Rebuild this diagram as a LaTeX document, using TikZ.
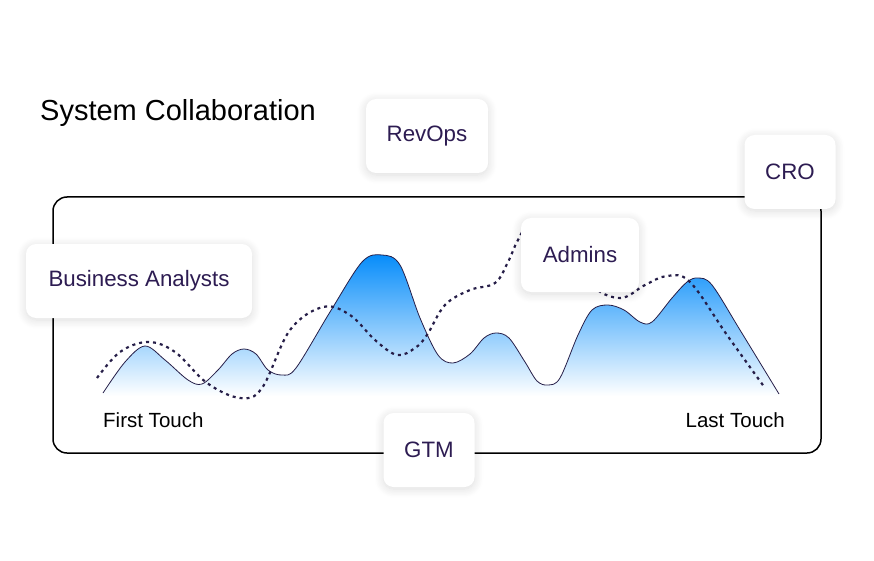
\documentclass[tikz,border=0pt]{standalone}
\usepackage{fontspec}
\setmainfont{Liberation Sans}
\usepackage{xcolor}
\usepackage{tikz}
\usetikzlibrary{shadows.blur}
\definecolor{cardink}{RGB}{45,28,82}
\definecolor{lineink}{RGB}{38,30,72}
\definecolor{peakblue}{RGB}{5,140,250}
\definecolor{midblue}{RGB}{125,196,252}

\begin{document}
\begin{tikzpicture}[
  x=1pt,y=-1pt,
  card/.style={fill=white,rounded corners=10pt,align=center,minimum height=74pt,text=cardink,
    font=\fontsize{22.3}{22}\selectfont,
    blur shadow={shadow xshift=0pt,shadow yshift=-2pt,shadow blur radius=9pt,shadow opacity=14,shadow blur steps=12}},
  touch/.style={font=\fontsize{20.5}{20}\selectfont,inner sep=0pt},
  frame/.style={draw,line width=1.5pt,rounded corners=14pt},
  ridge/.style={draw=lineink,line width=0.8pt},
  trail/.style={draw=lineink,line width=2.2pt,dash pattern=on 3pt off 4pt}
]
\useasboundingbox (0,0) rectangle (874,561);
\node[anchor=base west,inner sep=0pt,font=\fontsize{29}{29}\selectfont] (title) at (40,121) {System Collaboration};
\draw[frame] (53,197) rectangle (821,453);
% mountain profile
\shade[top color=peakblue,middle color=midblue,bottom color=white]
  plot[smooth,tension=0.55] coordinates {(103,393) (125,362) (145,346) (165,360) (188,380) (202,384) (218,370) (232,354) (244,349) (256,354) (268,370) (282,375) (296,368) (330,312) (362,262) (382,255) (400,265) (420,318) (438,355) (453,363) (470,354) (484,338) (496,333) (509,338) (525,362) (537,381) (548,385) (560,378) (578,335) (592,310) (608,305) (624,310) (640,322) (652,322) (672,298) (687,282) (698,278) (712,285) (740,330) (779,394)}
  -- (779,396) -- (103,396) -- cycle;
\draw[ridge] plot[smooth,tension=0.55] coordinates {(103,393) (125,362) (145,346) (165,360) (188,380) (202,384) (218,370) (232,354) (244,349) (256,354) (268,370) (282,375) (296,368) (330,312) (362,262) (382,255) (400,265) (420,318) (438,355) (453,363) (470,354) (484,338) (496,333) (509,338) (525,362) (537,381) (548,385) (560,378) (578,335) (592,310) (608,305) (624,310) (640,322) (652,322) (672,298) (687,282) (698,278) (712,285) (740,330) (779,394)};
% dotted journey
\draw[trail] plot[smooth,tension=0.6] coordinates {(97,378) (120,352) (148,342) (175,352) (207,383) (240,398) (262,388) (290,330) (323,307) (350,315) (375,340) (397,355) (415,348) (427,335) (445,305) (470,290) (495,283) (508,262) (518,240) (530,226) (560,240) (590,284) (620,298) (645,285) (667,276) (690,282) (727,335) (765,388)};
\node[touch,anchor=base west] (first) at (103,427) {First Touch};
\node[touch,anchor=base east] (last) at (785,427) {Last Touch};
% role cards
\node[card,minimum width=226pt] (analysts) at (139,281) {Business Analysts};
\node[card,minimum width=122pt] (revops) at (427,136) {RevOps};
\node[card,minimum width=91pt] (cro) at (790,172) {CRO};
\node[card,minimum width=118pt] (admins) at (580,255) {Admins};
\node[card,minimum width=91pt] (gtm) at (429,450) {GTM};
\end{tikzpicture}
\end{document}
